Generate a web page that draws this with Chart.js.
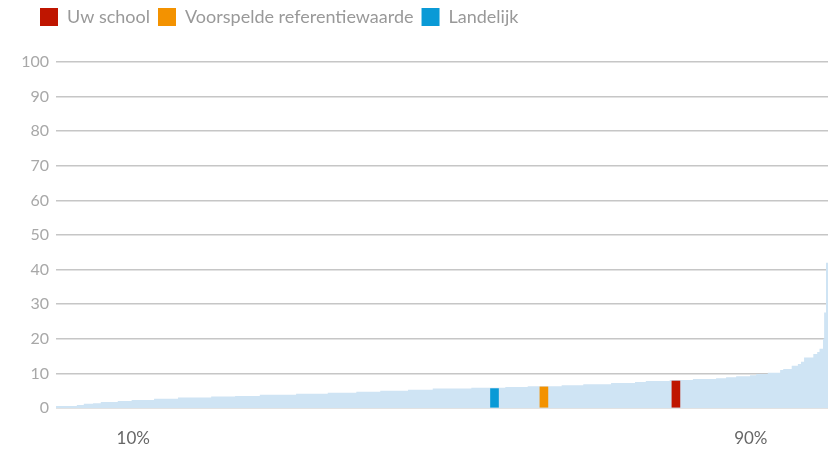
<!DOCTYPE html>
<html>
<head>
<meta charset="utf-8">
<script src="https://cdn.jsdelivr.net/npm/chart.js@4/dist/chart.umd.min.js"></script>
<style>
html,body{margin:0;padding:0;background:#fff;}
#wrap{width:828px;height:449px;}
</style>
</head>
<body>
<div id="wrap"><canvas id="c" width="828" height="449"></canvas></div>
<script>
// Distribution of all schools (sorted), as step start (percentile) and value
const stepStart = [0, 2.7, 3.6, 4.8, 5.8, 8.0, 9.8, 12.7, 15.8, 20.1, 23.2, 26.4, 31.1, 35.2, 38.9, 42.0, 45.6, 48.8, 53.8, 58.2, 61.1, 65.5, 68.3, 71.9, 75.0, 76.4, 79.5, 82.5, 85.5, 86.8, 88.1, 89.9, 90.7, 92.2, 93.8, 94.2, 95.3, 96.1, 96.5, 96.9, 98.1, 98.6, 98.9, 99.35, 99.5, 99.74, 99.87, 100];
const stepValue = [0.3, 0.6, 0.9, 1.2, 1.4, 1.7, 2.0, 2.3, 2.65, 3.0, 3.3, 3.5, 3.8, 4.1, 4.4, 4.7, 5.0, 5.3, 5.6, 5.85, 6.1, 6.3, 6.6, 6.9, 7.2, 7.5, 7.8, 8.1, 8.4, 8.6, 8.9, 9.2, 9.5, 9.8, 10.2, 11.0, 11.3, 12.2, 12.7, 13.4, 14.6, 15.6, 16.2, 17.1, 20.0, 27.6, 42.0, 42.0];

// Highlighted bars
const markerLabels = ['Uw school', 'Voorspelde referentiewaarde', 'Landelijk'];
const markerPosition = [80.3, 63.2, 56.8];
const markerValue = [7.8, 6.1, 5.6];
const markerColors = ['#bf1500', '#f39200', '#0a9ad6'];

// Axis ticks
const xTickValues = [10, 90];
const yTickMax = 100;
const yTickStep = 10;

const areaData = stepStart.map((x, i) => ({x: x, y: stepValue[i]}));

const markerDatasets = markerLabels.map((lab, i) => ({
  type: 'bar',
  label: lab,
  data: [{x: markerPosition[i], y: markerValue[i]}],
  backgroundColor: markerColors[i],
  borderWidth: 0,
  barThickness: 8,
  grouped: false,
  order: 0
}));

const layoutTweaks = {
  id: 'layoutTweaks',
  beforeInit(chart) {
    const lg = chart.legend;
    if (lg) {
      const origFit = lg.fit;
      lg.fit = function () {
        origFit.call(this);
        this.height += 26;
      };
    }
  },
  afterLayout(chart) {
    if (chart.legend) chart.legend.left = 32;
  }
};

new Chart(document.getElementById('c'), {
  type: 'line',
  data: {
    datasets: [
      ...markerDatasets,
      {
        type: 'line',
        label: 'distributie',
        data: areaData,
        stepped: 'after',
        fill: 'origin',
        backgroundColor: '#cfe4f4',
        borderColor: '#cfe4f4',
        borderWidth: 0,
        pointRadius: 0,
        order: 1
      }
    ]
  },
  plugins: [layoutTweaks],
  options: {
    responsive: false,
    animation: false,
    layout: {padding: 0},
    plugins: {
      legend: {
        position: 'top',
        align: 'start',
        labels: {
          boxWidth: 18,
          boxHeight: 18,
          padding: 8,
          color: '#999',
          font: {family: 'Lato', size: 18},
          filter: (item) => item.datasetIndex < markerLabels.length
        }
      },
      tooltip: {enabled: false}
    },
    scales: {
      x: {
        type: 'linear',
        min: 0,
        max: 100,
        offset: false,
        grid: {display: false, drawTicks: false, offset: false},
        border: {display: false},
        afterBuildTicks: (scale) => { scale.ticks = xTickValues.map(v => ({value: v})); },
        afterFit: (scale) => { scale.height = 41; },
        ticks: {
          autoSkip: false,
          maxRotation: 0,
          padding: 20,
          color: '#666',
          font: {family: 'Lato', size: 17},
          callback: (v) => v + '%'
        }
      },
      y: {
        min: 0,
        max: yTickMax,
        grid: {color: '#c6c6c6', lineWidth: 1.5, drawTicks: false},
        border: {display: false},
        afterFit: (scale) => { scale.width = 56; },
        ticks: {
          stepSize: yTickStep,
          padding: 7,
          color: '#a8a8a8',
          font: {family: 'Lato', size: 16}
        }
      }
    }
  }
});
</script>
</body>
</html>
